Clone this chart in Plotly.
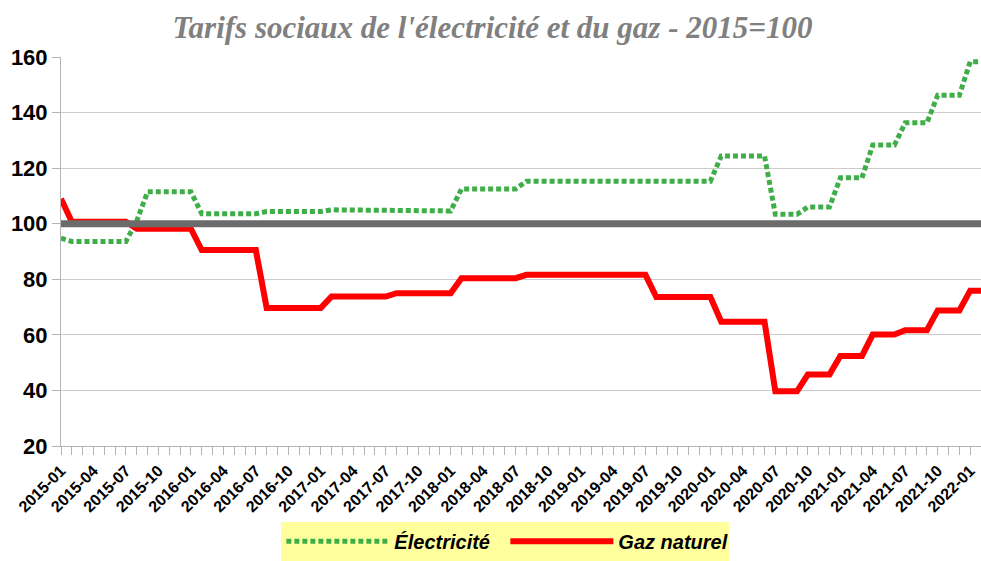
"""
Tarifs sociaux de l'électricité et du gaz - indice 2015=100
"""

import plotly.graph_objects as go

# Mois 2015-01 .. 2022-02
months = [f"{y}-{m:02d}" for y in range(2015, 2023) for m in range(1, 13)][:86]

# Libellés affichés tous les trimestres
tick_labels = [m if int(m[5:]) in (1, 4, 7, 10) else "" for m in months]

electricite = [
    94.8, 93.6, 93.6, 93.6, 93.6, 93.6, 93.6, 101.0, 111.5, 111.5,
    111.5, 111.5, 111.5, 103.6, 103.6, 103.6, 103.6, 103.6, 103.6, 104.4,
    104.4, 104.4, 104.4, 104.4, 104.4, 105.0, 105.0, 105.0, 105.0, 105.0,
    105.0, 104.6, 104.6, 104.6, 104.6, 104.6, 104.6, 112.5, 112.5, 112.5,
    112.5, 112.5, 112.5, 115.3, 115.3, 115.3, 115.3, 115.3, 115.3, 115.3,
    115.3, 115.3, 115.3, 115.3, 115.3, 115.3, 115.3, 115.3, 115.3, 115.3,
    115.3, 124.4, 124.4, 124.4, 124.4, 124.4, 103.4, 103.4, 103.4, 106.0,
    106.0, 106.0, 116.5, 116.5, 116.5, 128.3, 128.3, 128.3, 136.3, 136.3,
    136.3, 146.2, 146.2, 146.2, 158.3, 158.3,
]

gaz_naturel = [
    109.0, 100.7, 100.7, 100.7, 100.7, 100.7, 100.7, 98.2, 98.2, 98.2,
    98.2, 98.2, 98.2, 90.5, 90.5, 90.5, 90.5, 90.5, 90.5, 69.7,
    69.7, 69.7, 69.7, 69.7, 69.7, 73.8, 73.8, 73.8, 73.8, 73.8,
    73.8, 75.0, 75.0, 75.0, 75.0, 75.0, 75.0, 80.4, 80.4, 80.4,
    80.4, 80.4, 80.4, 81.6, 81.6, 81.6, 81.6, 81.6, 81.6, 81.6,
    81.6, 81.6, 81.6, 81.6, 81.6, 73.6, 73.6, 73.6, 73.6, 73.6,
    73.6, 64.7, 64.7, 64.7, 64.7, 64.7, 39.7, 39.7, 39.7, 45.7,
    45.7, 45.7, 52.4, 52.4, 52.4, 60.1, 60.1, 60.1, 61.7, 61.7,
    61.7, 68.8, 68.8, 68.8, 75.9, 75.9,
]

base_100 = [100] * len(months)

FONT = "Liberation Sans, Arial, sans-serif"

fig = go.Figure()

fig.add_trace(go.Scatter(
    x=months, y=electricite, name="Électricité", mode="lines",
    line=dict(color="#3fae49", width=5, dash="5px,3px"),
))
fig.add_trace(go.Scatter(
    x=months, y=gaz_naturel, name="Gaz naturel", mode="lines",
    line=dict(color="#ff0000", width=6),
))
fig.add_trace(go.Scatter(
    x=months, y=base_100, name="2015=100", mode="lines",
    line=dict(color="#6b6b6b", width=7), showlegend=False,
))

fig.update_layout(
    width=981, height=561,
    paper_bgcolor="white", plot_bgcolor="white",
    margin=dict(l=61, r=0, t=57, b=111),
    title=dict(
        text="Tarifs sociaux de l'électricité et du gaz - 2015=100",
        x=0.502, xanchor="center", y=0.952, yanchor="middle",
        font=dict(family="Liberation Serif, Times New Roman, serif", size=31,
                  color="#808080", weight="bold", style="italic"),
    ),
    legend=dict(
        orientation="h", x=0.483, xanchor="center", y=-0.245, yanchor="middle",
        bgcolor="#ffff9e", itemwidth=103, entrywidth=106,
        font=dict(family=FONT, size=20, color="black", weight="bold", style="italic"),
    ),
    showlegend=True,
)

fig.update_xaxes(
    type="category", range=[0, len(months) - 1], automargin=False,
    tickmode="array", tickvals=months, ticktext=tick_labels,
    tickangle=-45, ticks="outside", ticklen=8, tickcolor="#b4b4b4",
    showline=True, linecolor="#b4b4b4", linewidth=1, showgrid=False,
    tickfont=dict(family=FONT, size=16, color="black", weight="bold"),
)
fig.update_yaxes(
    range=[20, 160], dtick=20, ticks="outside", ticklen=8, tickcolor="#b4b4b4",
    showline=True, linecolor="#b4b4b4", linewidth=1, automargin=False,
    showgrid=True, gridcolor="#cccccc", gridwidth=1, zeroline=False,
    tickfont=dict(family=FONT, size=22, color="black", weight="bold"),
)

# sans marge de page, le graphique remplit exactement la fenêtre,
# et la légende qui déborde en bas est coupée comme dans l'original
page_js = (
    "document.body.style.margin='0';"
    "document.documentElement.style.overflow='hidden';"
    "document.body.style.overflow='hidden';"
    "var gd=document.getElementById('{plot_id}');"
    "gd.style.overflow='hidden';"
)
fig.write_html("out.html", config={"displayModeBar": False}, post_script=page_js)
